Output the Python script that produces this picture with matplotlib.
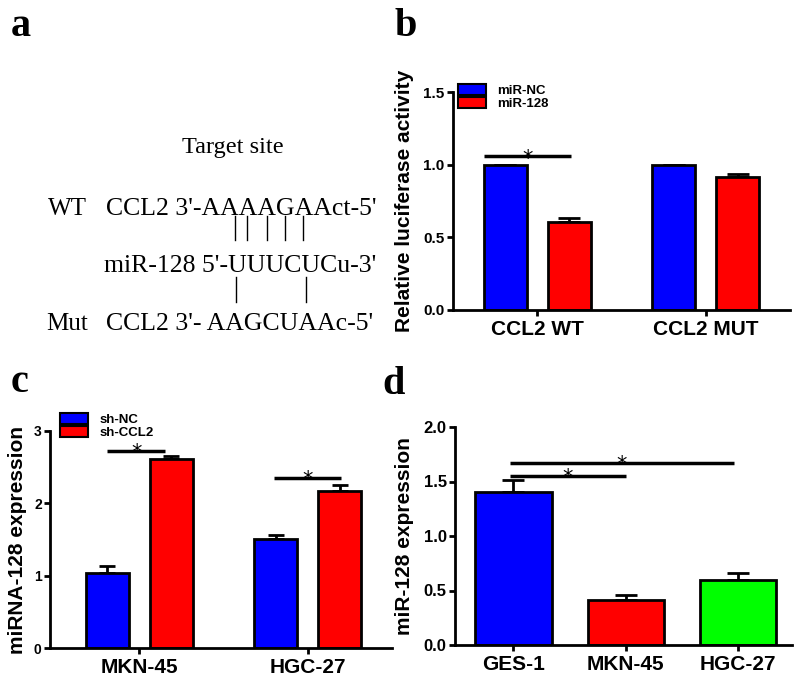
import matplotlib
matplotlib.use("Agg")
import matplotlib.pyplot as plt
from matplotlib.patches import Patch
import numpy as np

# ---------------- data ----------------
b_groups = ["CCL2 WT", "CCL2 MUT"]
b_series = ["miR-NC", "miR-128"]
b_nc = [1.00, 1.00]
b_nc_err = [0.0, 0.0]
b_mir = [0.604, 0.912]
b_mir_err = [0.028, 0.022]
b_yticks = [0.0, 0.5, 1.0, 1.5]

c_groups = ["MKN-45", "HGC-27"]
c_series = ["sh-NC", "sh-CCL2"]
c_nc = [1.04, 1.51]
c_nc_err = [0.09, 0.05]
c_sh = [2.61, 2.17]
c_sh_err = [0.05, 0.09]
c_yticks = [0, 1, 2, 3]

d_groups = ["GES-1", "MKN-45", "HGC-27"]
d_vals = [1.40, 0.41, 0.60]
d_err = [0.11, 0.05, 0.06]
d_yticks = [0.0, 0.5, 1.0, 1.5, 2.0]

# significance brackets: (x_start, x_end, height)
b_sig = [(-0.315, 0.20, 1.057)]
c_sig = [(-0.19, 0.155, 2.73), (0.80, 1.196, 2.35)]
d_sig = [(-0.03, 1.0, 1.55), (-0.03, 1.96, 1.67)]

BLUE, RED, GREEN = "#0000FF", "#FF0000", "#00FF00"
W, H = 800, 680

plt.rcParams["font.family"] = ["Liberation Sans", "DejaVu Sans"]
fig = plt.figure(figsize=(8, 6.8), dpi=100)


def ax_px(left, right, top, bottom):
    return fig.add_axes([left / W, 1 - bottom / H, (right - left) / W, (bottom - top) / H])


def style(ax, ysize):
    for s in ["top", "right"]:
        ax.spines[s].set_visible(False)
    for s in ["left", "bottom"]:
        ax.spines[s].set_linewidth(2)
    ax.tick_params(axis="both", width=2, length=4, direction="out")
    ax.tick_params(axis="y", labelsize=ysize, pad=2)
    ax.tick_params(axis="x", labelsize=15, pad=3)
    for lab in ax.get_yticklabels() + ax.get_xticklabels():
        lab.set_fontweight("bold")


def sig(ax, items):
    for x0, x1, y in items:
        ax.plot([x0, x1], [y, y], color="black", lw=2.5, solid_capstyle="butt", clip_on=False)
        ax.annotate("*", xy=((x0 + x1) / 2, y), xytext=(0, -6), textcoords="offset points",
                    ha="center", va="baseline", fontsize=15, family="DejaVu Sans")


def errs(ax, x, y, e, cap):
    ax.errorbar(x, y, yerr=[np.zeros(len(e)), e], fmt="none", ecolor="black",
                elinewidth=2, capsize=cap, capthick=2, zorder=1)


def legend(ax, labels, x, y):
    ax.legend(handles=[Patch(facecolor=BLUE, edgecolor="black", linewidth=1.5),
                       Patch(facecolor=RED, edgecolor="black", linewidth=1.5)],
              labels=labels, loc="upper left", bbox_to_anchor=(x / W, 1 - y / H),
              bbox_transform=fig.transFigure, frameon=False, handlelength=2.1, handleheight=0.85,
              labelspacing=0.05, borderpad=0, borderaxespad=0, handletextpad=0.9,
              prop={"weight": "bold", "size": 9.5})


# ---------------- panel b ----------------
axb = ax_px(453, 790, 92, 310)
xb = np.arange(len(b_groups))
off, bw = 0.19, 0.255
errs(axb, xb - off, b_nc, b_nc_err, 8)
errs(axb, xb + off, b_mir, b_mir_err, 8)
axb.bar(xb - off, b_nc, bw, color=BLUE, edgecolor="black", linewidth=2, zorder=2, label=b_series[0])
axb.bar(xb + off, b_mir, bw, color=RED, edgecolor="black", linewidth=2, zorder=2, label=b_series[1])
axb.set_xlim(-0.5, 1.5)
axb.set_ylim(0, 1.5)
axb.set_yticks(b_yticks)
axb.set_yticklabels([f"{v:.1f}" for v in b_yticks])
axb.set_xticks(xb)
axb.set_xticklabels(b_groups)
axb.set_ylabel("Relative luciferase activity", fontsize=15, fontweight="bold", labelpad=7)
style(axb, 11)
sig(axb, b_sig)
legend(axb, b_series, 458, 84)

# ---------------- panel c ----------------
axc = ax_px(50, 392, 431, 648)
xc = np.arange(len(c_groups))
errs(axc, xc - off, c_nc, c_nc_err, 6)
errs(axc, xc + off, c_sh, c_sh_err, 6)
axc.bar(xc - off, c_nc, bw, color=BLUE, edgecolor="black", linewidth=2, zorder=2)
axc.bar(xc + off, c_sh, bw, color=RED, edgecolor="black", linewidth=2, zorder=2)
axc.set_xlim(-0.53, 1.5)
axc.set_ylim(0, 3)
axc.set_yticks(c_yticks)
axc.set_xticks(xc)
axc.set_xticklabels(c_groups)
axc.set_ylabel("miRNA-128 expression", fontsize=15, fontweight="bold", labelpad=5)
style(axc, 10)
sig(axc, c_sig)
legend(axc, c_series, 60, 413)

# ---------------- panel d ----------------
axd = ax_px(455, 792, 427, 645)
xd = np.arange(len(d_groups))
errs(axd, xd, d_vals, d_err, 8)
axd.bar(xd, d_vals, 0.68, color=[BLUE, RED, GREEN], edgecolor="black", linewidth=2, zorder=2)
axd.set_xlim(-0.52, 2.48)
axd.set_ylim(0, 2.0)
axd.set_yticks(d_yticks)
axd.set_yticklabels([f"{v:.1f}" for v in d_yticks])
axd.set_xticks(xd)
axd.set_xticklabels(d_groups)
axd.set_ylabel("miR-128 expression", fontsize=15, fontweight="bold", labelpad=7)
style(axd, 12)
sig(axd, d_sig)

# ---------------- panel a (sequence diagram) ----------------
serif = ["Liberation Serif", "DejaVu Serif"]


def ftext(x, y, s, **kw):
    fig.text(x / W, 1 - y / H, s, family=serif, va="baseline", **kw)


ftext(182, 153, "Target site", fontsize=17.5)
ftext(48, 215, "WT", fontsize=18)
ftext(106, 215, "CCL2 3'-AAAAGAAct-5'", fontsize=18.5)
ftext(104, 272, "miR-128 5'-UUUCUCu-3'", fontsize=18.5)
ftext(46, 330, "Mut", fontsize=18)
ftext(106, 330, "CCL2 3'- AAGCUAAc-5'", fontsize=18.5)

pair_wt = [235, 247, 267, 285, 303]
pair_mut = [236, 306]
for x in pair_wt:
    fig.add_artist(plt.Line2D([x / W, x / W], [1 - 216 / H, 1 - 240 / H], color="black", lw=1))
for x in pair_mut:
    fig.add_artist(plt.Line2D([x / W, x / W], [1 - 277 / H, 1 - 302 / H], color="black", lw=1))

# panel letters
for x, y, s in [(11, 36, "a"), (395, 36, "b"), (11, 392, "c"), (382, 394, "d")]:
    fig.text(x / W, 1 - y / H, s, family=serif, fontweight="bold", fontsize=29, va="baseline")

fig.savefig("out.png", dpi=100)
